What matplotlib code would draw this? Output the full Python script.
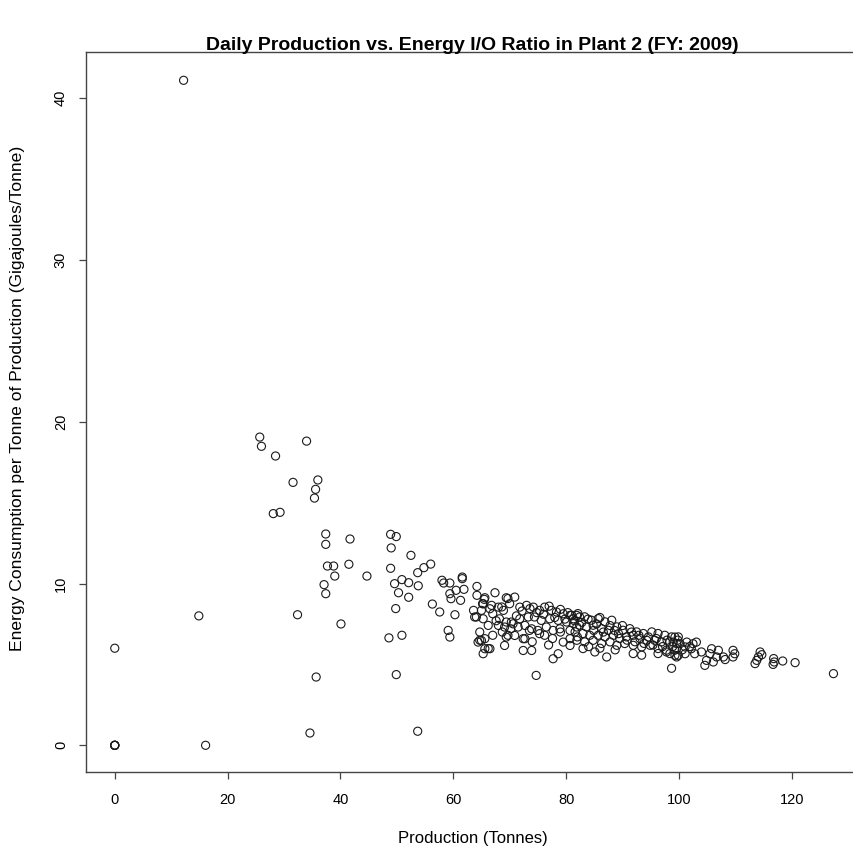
import matplotlib
matplotlib.use("Agg")
import matplotlib.pyplot as plt

plt.rcParams['font.family'] = ['Liberation Sans', 'DejaVu Sans']

# Production (Tonnes) vs energy consumption per tonne (GJ/Tonne).
# outliers / low production days
prod_low = [0, 0, 0, 0, 0, 16.1, 14.9, 12.2,
            25.7, 26.0, 34.0, 28.5, 31.6, 36.0, 35.6, 35.4, 28.1, 29.3,
            37.4, 37.4, 41.7, 37.7, 38.8, 41.5, 39.0, 44.7, 37.1, 37.4,
            32.4, 40.1, 35.7, 34.6, 53.7, 49.9, 48.6, 50.9]
ratio_low = [0, 0, 0, 0, 6.0, 0, 8.0, 41.1,
             19.05, 18.48, 18.8, 17.88, 16.25, 16.4, 15.82, 15.28, 14.32, 14.4,
             13.06, 12.42, 12.75, 11.08, 11.08, 11.19, 10.46, 10.46, 9.93, 9.37,
             8.07, 7.5, 4.22, 0.76, 0.87, 4.37, 6.64, 6.8]

# 48 - 62 tonnes
prod_mid = [48.9, 49.9, 49.0, 52.5, 48.9, 56.0, 54.8, 53.7, 50.9, 49.6, 52.1,
            53.8, 50.3, 52.1, 49.8, 56.3, 57.6, 58.0, 58.3, 59.4, 61.6, 61.6,
            60.5, 61.9, 59.4, 59.6, 61.3, 60.3, 59.1, 59.4]
ratio_mid = [13.04, 12.9, 12.2, 11.74, 10.94, 11.2, 10.98, 10.67, 10.24, 9.99, 10.05,
             9.86, 9.43, 9.15, 8.45, 8.73, 8.24, 10.2, 10.03, 10.03, 10.4, 10.3,
             9.58, 9.64, 9.37, 9.06, 8.96, 8.07, 7.1, 6.69]

# 62 - 83 tonnes
prod_band1 = [64.2, 67.4, 64.2, 65.6, 65.3, 69.4, 70.9, 63.6, 65.0, 66.5, 68.0, 68.9,
              70.0, 71.8, 73.0, 74.2, 75.3, 76.2, 77.4, 78.3, 79.5, 80.7, 81.9,
              63.8, 65.3, 67.0, 68.2, 69.4, 70.6, 71.8, 73.3, 74.4, 75.6, 77.1,
              78.6, 80.1, 81.3, 82.4, 66.2, 68.0, 69.1, 70.3, 71.5, 72.7, 73.9,
              75.0, 76.5, 77.7, 78.9, 80.7, 81.9, 64.7, 65.0, 64.4, 65.6, 69.4,
              70.9, 72.4, 73.5, 75.3, 79.5, 80.7, 80.7, 65.6, 66.5, 65.3, 69.1,
              72.4, 73.9, 77.7, 78.6, 74.7, 66.8, 68.6, 69.7, 64.1, 69.7, 72.7,
              65.5, 65.2, 64.7, 66.2,
              72.2, 73.6, 74.8, 76.0, 77.0, 78.0, 79.0, 79.8, 80.3, 81.5, 82.8,
              76.2, 77.6, 79.0, 82.0, 70.2, 71.2, 67.6, 68.7, 67.0, 74.0, 76.9]
ratio_band1 = [9.82, 9.43, 9.27, 9.12, 8.75, 9.12, 9.16, 8.34, 8.34, 8.44, 8.54, 8.34,
               8.75, 8.54, 8.65, 8.54, 8.34, 8.54, 8.34, 8.24, 8.13, 8.03, 8.03,
               7.93, 7.82, 8.13, 7.82, 7.62, 7.51, 7.82, 7.93, 7.93, 7.72, 7.82,
               7.72, 7.62, 7.82, 7.93, 7.41, 7.41, 7.31, 7.62, 7.31, 7.41, 7.2,
               7.1, 7.31, 7.1, 7.2, 7.1, 7.31, 7.0, 6.48, 6.38, 6.59, 6.69,
               6.79, 6.59, 7.1, 6.9, 6.38, 6.59, 6.17, 5.97, 5.97, 5.66, 6.17,
               5.86, 5.86, 5.35, 5.66, 4.32, 8.65, 8.55, 9.07, 7.93, 6.8, 6.59,
               9.02, 8.75, 6.49, 5.98,
               8.3, 8.45, 8.2, 8.1, 8.6, 7.9, 8.4, 7.8, 8.2, 7.7, 7.6,
               6.8, 6.6, 7.0, 6.7, 7.2, 8.0, 7.7, 7.0, 6.8, 6.4, 6.2]

# 81 - 100 tonnes
prod_band2 = [81.0, 82.1, 83.3, 84.5, 85.7, 86.9, 88.1, 81.3, 82.4, 83.6, 84.8, 86.3,
              87.5, 89.0, 90.1, 91.3, 92.5, 93.7, 95.2, 96.3, 97.5, 98.7, 99.9,
              81.6, 83.0, 84.2, 85.7, 86.9, 88.4, 89.5, 90.7, 91.9, 93.1, 94.3,
              95.7, 96.9, 98.4, 99.6, 81.9, 83.3, 84.8, 86.3, 87.8, 89.0, 90.4,
              91.9, 93.4, 94.9, 96.3, 97.8, 99.3, 83.0, 85.1, 87.2, 91.9, 93.4,
              96.3, 98.4, 99.6, 98.7, 97.8, 99.9,
              83.9, 84.9, 85.4, 86.0, 86.6, 87.8, 88.6, 89.3, 90.0, 90.8, 91.6,
              92.2, 92.9, 93.8, 94.6, 95.4, 96.0, 97.1, 97.9, 98.9, 99.8, 84.0,
              86.0, 88.7]
ratio_band2 = [8.04, 8.14, 7.94, 7.73, 7.83, 7.63, 7.73, 7.52, 7.42, 7.32, 7.42, 7.21,
               7.11, 7.32, 7.11, 7.21, 7.01, 6.91, 7.01, 6.91, 6.8, 6.7, 6.7,
               7.01, 6.91, 6.8, 6.8, 6.7, 6.8, 6.6, 6.7, 6.8, 6.6, 6.49,
               6.49, 6.39, 6.39, 6.29, 6.49, 6.39, 6.49, 6.29, 6.39, 6.18, 6.29,
               6.18, 6.08, 6.18, 5.98, 5.88, 5.88, 5.98, 5.77, 5.46, 5.67, 5.57,
               5.67, 5.67, 5.46, 4.76, 5.77, 5.56,
               7.8, 7.1, 7.5, 7.9, 7.0, 7.4, 7.1, 6.9, 7.4, 6.5, 7.0,
               6.4, 6.8, 6.3, 6.7, 6.2, 6.6, 6.1, 6.5, 6.1, 6.5, 6.1,
               6.0, 5.9]

# 99 tonnes and up
prod_tail = [99.3, 99.0, 100.2, 101.4, 102.5, 103.1, 99.6, 101.1, 102.2, 99.3, 101.1,
             102.8, 104.0, 105.8, 107.0, 105.5, 106.7, 107.9, 104.9, 106.1, 104.6,
             109.6, 109.9, 109.6, 108.2, 114.4, 114.1, 113.8, 113.5, 114.7,
             116.8, 116.9, 116.7, 118.4, 120.6, 127.4, 100.6, 101.9]
ratio_tail = [6.69, 6.38, 6.28, 6.38, 6.28, 6.38, 5.97, 6.08, 5.97, 5.56, 5.66,
              5.66, 5.77, 5.97, 5.87, 5.66, 5.46, 5.46, 5.25, 5.15, 4.94,
              5.87, 5.66, 5.46, 5.3, 5.77, 5.46, 5.25, 5.05, 5.6,
              5.36, 5.15, 5.0, 5.21, 5.11, 4.43, 5.9, 6.1]

production = prod_low + prod_mid + prod_band1 + prod_band2 + prod_tail
energy_ratio = ratio_low + ratio_mid + ratio_band1 + ratio_band2 + ratio_tail

fig = plt.figure(figsize=(8.54, 8.52), dpi=100)
ax = fig.add_axes([86 / 854, 80 / 852, 783 / 854, 720 / 852])

ax.scatter(production, energy_ratio, s=34, facecolors='none',
           edgecolors='#1a1a1a', linewidths=0.8)

ax.set_xlim(-5.1, 133.7)
ax.set_ylim(-1.65, 42.85)
ax.set_xticks(range(0, 121, 20))
ax.set_yticks(range(0, 41, 10))
ax.tick_params(axis='both', direction='out', length=5, width=0.9,
               color='#444444', labelsize=10.5)
ax.tick_params(axis='x', pad=10)
ax.tick_params(axis='y', pad=8)
for lbl in ax.get_yticklabels():
    lbl.set_rotation(90)
    lbl.set_va('center')
for sp in ax.spines.values():
    sp.set_linewidth(1.0)
    sp.set_color('#444444')

fig.text(472 / 854, 1 - 45 / 852,
         'Daily Production vs. Energy I/O Ratio in Plant 2 (FY: 2009)',
         ha='center', va='center', fontsize=14, fontweight='bold')
fig.text(473 / 854, 1 - 838 / 852, 'Production (Tonnes)',
         ha='center', va='center', fontsize=12)
fig.text(18 / 854, 1 - 398 / 852,
         'Energy Consumption per Tonne of Production (Gigajoules/Tonne)',
         ha='center', va='center', rotation=90, fontsize=12.6)

fig.savefig('out.png', dpi=100)
